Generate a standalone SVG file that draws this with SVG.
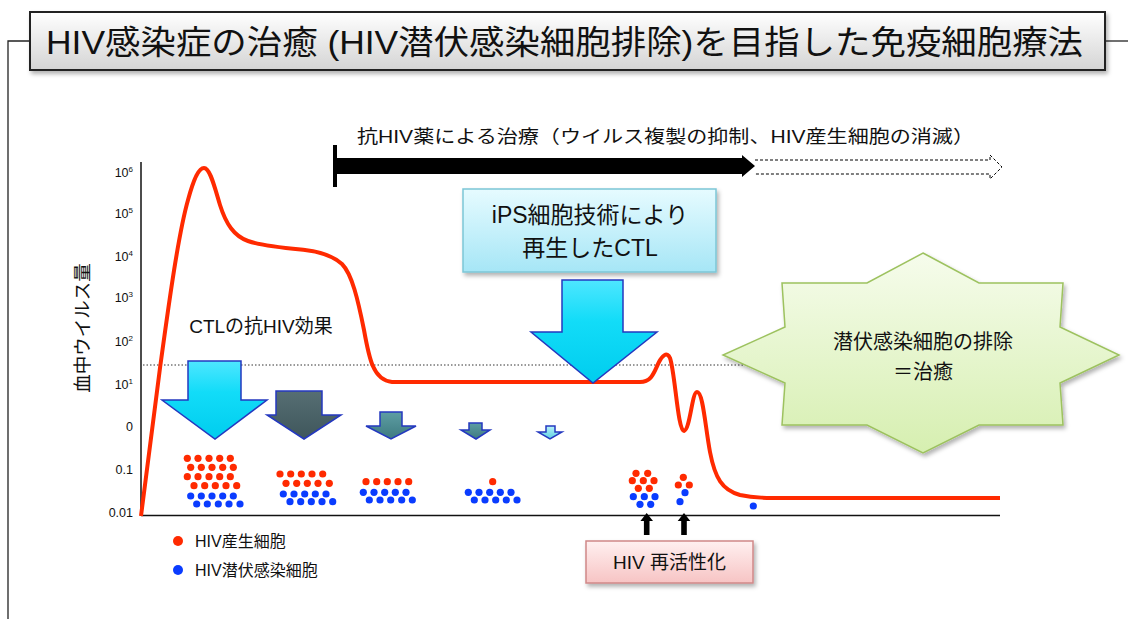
<svg xmlns="http://www.w3.org/2000/svg" width="1128" height="619" viewBox="0 0 1128 619">
<defs>
<linearGradient id="gTitle" x1="0" y1="0" x2="0" y2="1"><stop offset="0" stop-color="#ffffff"/><stop offset="1" stop-color="#d4d4d4"/></linearGradient>
<linearGradient id="gCyan" x1="0" y1="0" x2="0" y2="1"><stop offset="0" stop-color="#4ee6ff"/><stop offset="0.4" stop-color="#12dcf8"/><stop offset="1" stop-color="#00cdee"/></linearGradient>
<linearGradient id="gIps" x1="0" y1="0" x2="0" y2="1"><stop offset="0" stop-color="#e6fbff"/><stop offset="1" stop-color="#a6e6f6"/></linearGradient>
<linearGradient id="gStar" x1="0" y1="0" x2="0" y2="1"><stop offset="0" stop-color="#f6fcec"/><stop offset="1" stop-color="#d6efb0"/></linearGradient>
<linearGradient id="gPink" x1="0" y1="0" x2="0" y2="1"><stop offset="0" stop-color="#fff0f0"/><stop offset="1" stop-color="#f7c4c4"/></linearGradient>
<linearGradient id="gDark" x1="0" y1="0" x2="0" y2="1"><stop offset="0" stop-color="#566e73"/><stop offset="1" stop-color="#3f565b"/></linearGradient>
<linearGradient id="gTeal" x1="0" y1="0" x2="0" y2="1"><stop offset="0" stop-color="#5e9ea3"/><stop offset="1" stop-color="#3d7a80"/></linearGradient>
<linearGradient id="gLight" x1="0" y1="0" x2="0" y2="1"><stop offset="0" stop-color="#b8f2fa"/><stop offset="1" stop-color="#5ccfe0"/></linearGradient>
<filter id="sh" x="-10%" y="-10%" width="130%" height="140%"><feDropShadow dx="2" dy="3" stdDeviation="2" flood-color="#000" flood-opacity="0.3"/></filter>
</defs>
<style>
text{font-family:"Liberation Sans","Noto Sans CJK JP",sans-serif;fill:#111}
.ax{font-size:12.5px;text-anchor:end}
.red{fill:#ff2a00}
.blue{fill:#0a3cff}
.arr{stroke:#2438c0;stroke-width:1.5;stroke-linejoin:miter}
</style>
<rect width="1128" height="619" fill="#ffffff"/>

<g id="frame" fill="none" stroke="#222" stroke-width="1.3">
<path d="M8,619 V41 H30"/>
<path d="M1105,41 H1128"/>
</g>

<g id="title">
<rect x="30" y="12" width="1075" height="58" fill="url(#gTitle)" stroke="#222" stroke-width="2" filter="url(#sh)"/>
<text x="46" y="54" font-size="33" textLength="1037" lengthAdjust="spacingAndGlyphs">HIV感染症の治癒 (HIV潜伏感染細胞排除)を目指した免疫細胞療法</text>
</g>

<g id="axes">
<line x1="141" y1="162" x2="141" y2="516" stroke="#111" stroke-width="1.5"/>
<line x1="141" y1="515.5" x2="1000" y2="515.5" stroke="#111" stroke-width="1.5"/>
<line x1="143" y1="365" x2="748" y2="365" stroke="#333" stroke-width="1" stroke-dasharray="1.5 2"/>
<text class="ax" x="133" y="177">10<tspan font-size="8" dy="-5">6</tspan></text>
<text class="ax" x="133" y="218">10<tspan font-size="8" dy="-5">5</tspan></text>
<text class="ax" x="133" y="261">10<tspan font-size="8" dy="-5">4</tspan></text>
<text class="ax" x="133" y="302">10<tspan font-size="8" dy="-5">3</tspan></text>
<text class="ax" x="133" y="346">10<tspan font-size="8" dy="-5">2</tspan></text>
<text class="ax" x="133" y="389">10<tspan font-size="8" dy="-5">1</tspan></text>
<text class="ax" x="133" y="431">0</text>
<text class="ax" x="133" y="474">0.1</text>
<text class="ax" x="133" y="517">0.01</text>
<text x="0" y="0" font-size="18.5" text-anchor="middle" transform="translate(89,328) rotate(-90)">血中ウイルス量</text>
</g>

<g id="curve">
<path d="M141,516 L160,368 C168,310 178,235 188,200 C194,178 199,168 204,168 C210,168 214,185 220,205 C226,224 234,236 248,241 C262,246 285,248 305,250 C322,252 333,256 342,264 C352,274 358,300 364,330 C369,358 373,380 392,382 L640,382 C652,382 654,372 659,362 C662,356 667,351 670,358 C675,372 678,432 684,431 C690,430 692,392 697,392 C703,392 705,425 710,452 C715,478 722,490 740,495 C755,498 765,498 790,498 L1000,498" fill="none" stroke="#ff2a00" stroke-width="4" stroke-linejoin="round"/>
</g>

<g id="treatment">
<text x="357" y="143" font-size="18" textLength="617" lengthAdjust="spacingAndGlyphs">抗HIV薬による治療（ウイルス複製の抑制、HIV産生細胞の消滅）</text>
<line x1="335" y1="145" x2="335" y2="187" stroke="#000" stroke-width="4"/>
<path d="M335,158 H742 V155 L755,166 L742,177 V174 H335 Z" fill="#000"/>
<path d="M755,160 H990 V155 L1002,167 L990,179 V174 H755" fill="#fff" stroke="#000" stroke-width="1" stroke-dasharray="3 2"/>
</g>

<g id="ctl-label">
<text x="261" y="333" font-size="19" text-anchor="middle">CTLの抗HIV効果</text>
</g>

<g id="ctl-arrows">
<path class="arr" d="M188,361 H241 V400 H267 L215,439 L162,400 H188 Z" fill="url(#gCyan)"/>
<path class="arr" d="M276,391 H322 V415 H341 L304,439 L267,415 H276 Z" fill="url(#gDark)"/>
<path class="arr" d="M380,412 H402 V426 H416 L391,439 L366,426 H380 Z" fill="url(#gTeal)"/>
<path class="arr" d="M469,423 H482 V430 H490 L476,439 L461,430 H469 Z" fill="url(#gTeal)"/>
<path class="arr" d="M546,426 H555 V432 H562 L550,439 L538,432 H546 Z" fill="url(#gLight)"/>
</g>

<g id="cells">
<g class="red">
<circle cx="187.3" cy="458.3" r="3.6"/><circle cx="198" cy="458.3" r="3.6"/><circle cx="209" cy="458.3" r="3.6"/><circle cx="219.7" cy="458.3" r="3.6"/><circle cx="230.3" cy="458.3" r="3.6"/>
<circle cx="190.7" cy="467.3" r="3.6"/><circle cx="201.3" cy="467.3" r="3.6"/><circle cx="212" cy="467.3" r="3.6"/><circle cx="222.7" cy="467.3" r="3.6"/><circle cx="233.3" cy="467.3" r="3.6"/>
<circle cx="187.3" cy="476.7" r="3.6"/><circle cx="198" cy="476.7" r="3.6"/><circle cx="209" cy="476.7" r="3.6"/><circle cx="219.7" cy="476.7" r="3.6"/><circle cx="230.3" cy="476.7" r="3.6"/>
<circle cx="194" cy="485.7" r="3.6"/><circle cx="204.7" cy="485.7" r="3.6"/><circle cx="215.3" cy="485.7" r="3.6"/><circle cx="226" cy="485.7" r="3.6"/><circle cx="236.7" cy="485.7" r="3.6"/>
<circle cx="280" cy="474" r="3.6"/><circle cx="290.7" cy="474" r="3.6"/><circle cx="301.3" cy="474" r="3.6"/><circle cx="312" cy="474" r="3.6"/><circle cx="322.7" cy="474" r="3.6"/>
<circle cx="286" cy="483.3" r="3.6"/><circle cx="296.7" cy="483.3" r="3.6"/><circle cx="307.3" cy="483.3" r="3.6"/><circle cx="318" cy="483.3" r="3.6"/><circle cx="329.3" cy="483.3" r="3.6"/>
<circle cx="366" cy="481.7" r="3.6"/><circle cx="376.7" cy="481.7" r="3.6"/><circle cx="387.3" cy="481.7" r="3.6"/><circle cx="398" cy="481.7" r="3.6"/><circle cx="408.7" cy="481.7" r="3.6"/>
<circle cx="492.7" cy="481.7" r="3.6"/>
<circle cx="636" cy="473.3" r="3.6"/><circle cx="647.7" cy="473.3" r="3.6"/>
<circle cx="632.3" cy="480.7" r="3.6"/><circle cx="643.3" cy="480.7" r="3.6"/><circle cx="654" cy="480.7" r="3.6"/>
<circle cx="638.3" cy="488.3" r="3.6"/><circle cx="649.3" cy="488.3" r="3.6"/>
<circle cx="683.3" cy="477.3" r="3.6"/><circle cx="678.3" cy="485" r="3.6"/><circle cx="689.3" cy="485" r="3.6"/>
</g>
<g class="blue">
<circle cx="190.7" cy="496" r="3.6"/><circle cx="201.3" cy="496" r="3.6"/><circle cx="212" cy="496" r="3.6"/><circle cx="222.7" cy="496" r="3.6"/><circle cx="233.3" cy="496" r="3.6"/>
<circle cx="196.7" cy="504" r="3.6"/><circle cx="207.3" cy="504" r="3.6"/><circle cx="218.3" cy="504" r="3.6"/><circle cx="229" cy="504" r="3.6"/><circle cx="240" cy="504" r="3.6"/>
<circle cx="283.3" cy="494" r="3.6"/><circle cx="294" cy="494" r="3.6"/><circle cx="304.7" cy="494" r="3.6"/><circle cx="315.3" cy="494" r="3.6"/><circle cx="326" cy="494" r="3.6"/>
<circle cx="290" cy="501.7" r="3.6"/><circle cx="300.7" cy="501.7" r="3.6"/><circle cx="311.3" cy="501.7" r="3.6"/><circle cx="322" cy="501.7" r="3.6"/><circle cx="332.7" cy="501.7" r="3.6"/>
<circle cx="363.3" cy="492.3" r="3.6"/><circle cx="374" cy="492.3" r="3.6"/><circle cx="384.7" cy="492.3" r="3.6"/><circle cx="395.3" cy="492.3" r="3.6"/><circle cx="406" cy="492.3" r="3.6"/>
<circle cx="369.3" cy="500" r="3.6"/><circle cx="380" cy="500" r="3.6"/><circle cx="390.7" cy="500" r="3.6"/><circle cx="401.7" cy="500" r="3.6"/><circle cx="412.3" cy="500" r="3.6"/>
<circle cx="468.3" cy="492.3" r="3.6"/><circle cx="479" cy="492.3" r="3.6"/><circle cx="489.7" cy="492.3" r="3.6"/><circle cx="500.3" cy="492.3" r="3.6"/><circle cx="511" cy="492.3" r="3.6"/>
<circle cx="474.3" cy="500" r="3.6"/><circle cx="485" cy="500" r="3.6"/><circle cx="495.7" cy="500" r="3.6"/><circle cx="506.3" cy="500" r="3.6"/><circle cx="517" cy="500" r="3.6"/>
<circle cx="633.3" cy="496.7" r="3.6"/><circle cx="644.3" cy="496.7" r="3.6"/><circle cx="655" cy="496.7" r="3.6"/>
<circle cx="640" cy="504.3" r="3.6"/><circle cx="650.7" cy="504.3" r="3.6"/>
<circle cx="685" cy="492.7" r="3.6"/><circle cx="680" cy="501.7" r="3.6"/>
<circle cx="753.3" cy="506" r="3.6"/>
</g>
</g>

<g id="ips">
<rect x="463" y="189" width="253" height="83" fill="url(#gIps)" stroke="#7cc6d6" stroke-width="1.5" filter="url(#sh)"/>
<text x="590" y="223" font-size="23" text-anchor="middle">iPS細胞技術により</text>
<text x="590" y="256" font-size="23" text-anchor="middle">再生したCTL</text>
</g>

<g id="ips-arrow">
<path class="arr" d="M562,280 H623 V332 H657 L593,383 L531,332 H562 Z" fill="url(#gCyan)"/>
</g>

<g id="cure">
<polygon points="923,253 979,283 1063,283 1060,327 1119,355 1060,383 1063,425 979,425 923,453 867,425 782,425 785,383 723,355 785,327 782,283 867,283" fill="url(#gStar)" stroke="#9dc25f" stroke-width="1.5" filter="url(#sh)"/>
<text x="923" y="349" font-size="20" text-anchor="middle">潜伏感染細胞の排除</text>
<text x="923" y="379" font-size="20" text-anchor="middle">＝治癒</text>
</g>

<g id="connectors" fill="#000">
<path d="M646.7,513 L653,521 H649.5 V535 H643.9 V521 H640.4 Z"/>
<path d="M684,513 L690.3,521 H686.8 V535 H681.2 V521 H677.7 Z"/>
</g>

<g id="reactivation">
<rect x="586" y="541" width="167" height="42" fill="url(#gPink)" stroke="#d08888" stroke-width="1.5" filter="url(#sh)"/>
<text x="669.5" y="569" font-size="19" text-anchor="middle">HIV 再活性化</text>
</g>

<g id="legend">
<circle cx="178" cy="541" r="5" class="red"/>
<circle cx="178" cy="570" r="5" class="blue"/>
<text x="195" y="547" font-size="16">HIV産生細胞</text>
<text x="195" y="576" font-size="16">HIV潜伏感染細胞</text>
</g>
</svg>
